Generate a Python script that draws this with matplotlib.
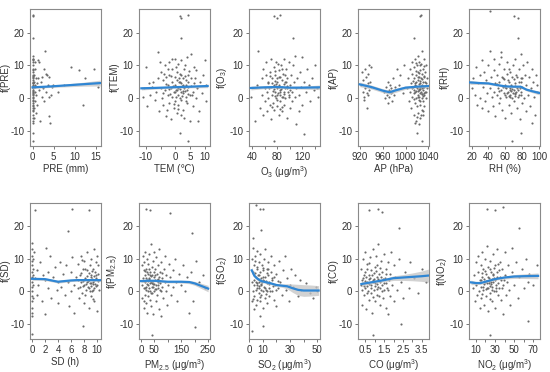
import numpy as np
import matplotlib
matplotlib.use('Agg')
import matplotlib.pyplot as plt

plt.rcParams['font.family'] = ['Liberation Sans', 'DejaVu Sans']
plt.rcParams['mathtext.fontset'] = 'custom'
plt.rcParams['mathtext.rm'] = 'Liberation Sans'
plt.rcParams['mathtext.it'] = 'Liberation Sans'

# ---- scatter points (partial residuals) ----
pre_pts = [(0, 13), (0, 12), (0.05, 11.5), (0, 11), (0.1, 10), (0, 9), (0.05, 8.5), (0, 8), (0.1, 7), (0, 6.5),
           (0.05, 6), (0, 5.5), (0.1, 5), (0, 4.5), (0.05, 4), (0, 3.5), (0.1, 3), (0, 2.5), (0.05, 2), (0, 1.5),
           (0.1, 1), (0, 0.5), (0.05, 0), (0, -0.5), (0.1, -1), (0, -1.5), (0.05, -2), (0, -3), (0.1, -3.5),
           (0, -4), (0.05, -5), (0, -6), (0.1, -7), (0, -7.5), (0.05, 2.2), (0, 3.8), (0.1, 4.7), (0, 6.8),
           (0.05, 1.2), (0, -2.5), (0.3, 5), (0.4, 7), (0.5, 4), (0.6, -1), (0.5, 2), (0.8, 6), (0.7, 3.5),
           (0.4, -3), (0.6, 11), (0.9, 1), (0.3, -6), (0.5, 9), (0.8, -4.5), (1.0, 4.5), (0.2, 12),
           (1.2, 11.5), (1.5, 11), (1.3, 6), (1.6, 2.5), (1.8, -7), (2.0, 5), (2.2, 0.5), (2.5, 3), (2.8, 9),
           (3.0, 14.5), (3.1, 7.5), (3.3, 2), (3.5, 7), (3.6, 4), (3.8, 6.5), (4.0, -5.5), (4.2, -7.5),
           (4.4, 1), (4.6, 3.5), (2.7, -1), (1.1, -2), (2.3, 6.5), (4.8, 4), (3.9, 0.2), (9, 9.5), (11, 8.5),
           (12, -2), (12.5, 6), (14.5, 9), (15.5, 3.5), (6, 2), (7.5, 4),
           (0, 25), (0.05, 25.5), (0, 18.5), (0, -10.5), (0.05, -13)]

tem_pts = [(-10.5, 3), (-10, 9.5), (-9, 4.5), (-8.5, 1), (-8, 3.5), (-7.5, 5), (-7, -0.5), (-6.5, 2), (-6, 14),
           (-6, 6), (-5.5, -4), (-5, 3), (-5, 8), (-4.5, 0), (-4, 5.5), (-4, -2), (-3.5, 10), (-3.5, 2.5),
           (-3, -5.5), (-3, 6.5), (-2.5, 1), (-2.5, 4), (-2, 11), (-2, -1.5), (-2, 7), (-1.5, 3), (-1.5, -6.5),
           (-1, 5), (-1, 0.5), (-1, 9), (-0.5, 2), (-0.5, -3), (0, 12), (0, 4), (0, -1), (0, 6.5), (0.5, 2.5),
           (0.5, 8), (0.5, -4.5), (1, 3.5), (1, 1), (1, 10.5), (1, -2), (1.5, 5), (1.5, 0), (1.5, 7.5), (2, 2),
           (2, 11.5), (2, -0.5), (2, 4.5), (2.5, 6), (2.5, -3.5), (2.5, 1.5), (3, 3), (3, 9), (3, -6),
           (3.5, 0.5), (3.5, 5.5), (4, 2.5), (4, 12.5), (4, -1.5), (4.5, 7), (4.5, 3.5), (5, -7), (5, 1),
           (5.5, 6), (5.5, 13.5), (6, 2), (6, -2.5), (6.5, 4.5), (7, 0), (7, 8.5), (7.5, 3), (8, -4), (8.5, 5),
           (9, 1.5), (9.5, 7), (10, 11.5), (10.5, -1), (10.5, 4), (-11, 0.5), (-9.5, -2.5), (-1.8, 1.2),
           (0.8, 3.2), (2.8, 2.2), (3.8, 4), (1.2, 6.2), (-0.2, 1.8), (2.2, 3.8), (0.3, 0.2), (1.8, -5),
           (-2.8, -3.5), (3.2, 10), (-1.2, 12), (4.2, 5), (6.2, 9.5), (7.8, -7), (-5.2, 11),
           (-3.2, 4.2), (-2.2, 2.8), (-0.8, 3.6), (0.2, 2.4), (1.3, 4.8), (2.3, 0.8), (3.3, 6.8), (4.3, 1.2),
           (5.2, 3.8), (-1.3, 6.8), (0.7, 5.6), (1.7, 2.9), (2.7, 4.1), (3.7, -0.8), (-0.3, -1.8), (4.8, 8.2),
           (-2.6, 8.8), (1.1, -3.2), (2.1, 7.2), (3.4, 2.1), (-4.3, 1.6), (5.8, 0.9), (0.1, 9.6), (6.8, 6.2),
           (-3.8, 7.4),
           (1.5, 25), (2, 24.5), (4.5, 25.5), (2, 18.5), (1.5, -10.5), (4.5, -13)]

o3_pts = [(38, 0.5), (45, -7), (48, 4), (50, 14.5), (52, -3), (55, 6), (55, 1), (58, 9), (58, -5), (60, 3),
          (60, -1), (62, 7), (62, 11), (64, 2), (64, -4), (65, 5), (66, 0), (68, 8), (68, -2), (70, 12),
          (70, 3.5), (70, -6.5), (72, 1), (72, 6), (73, -1.5), (74, 4), (75, 9.5), (75, -3.5), (76, 2), (77, 7),
          (78, 0), (78, 11), (79, 3), (80, 5), (80, -2.5), (81, 1.5), (82, 8.5), (82, -5), (83, 4), (84, 2.5),
          (85, 6.5), (85, -1), (86, 10), (87, 0.5), (88, 3.5), (88, -4), (89, 7.5), (90, 2), (90, 12), (91, -2),
          (92, 5), (93, 0), (94, 9), (95, 3), (95, -6), (96, 6), (98, 1), (98, 11), (100, 4), (100, -3),
          (102, 7), (103, 2), (104, -1), (105, 10), (106, 5), (108, 0.5), (108, 13), (110, 3), (110, -8),
          (112, 6), (114, 1), (115, -4), (116, 8), (118, 3.5), (120, 12.5), (120, -2), (122, 5), (122, -11),
          (125, 2), (128, 9), (130, 4), (132, -1), (135, 6), (138, 2.5), (140, 10), (143, 3), (145, 0.5),
          (76, 5.2), (84, 1), (92, 3.2), (79, 6), (87, -2.8), (66, 4.5), (97, 1.8), (74, 2.8), (81, 10.5),
          (67, 3.2), (71, 4.6), (73, 2.2), (77, 0.8), (79, -0.6), (83, 6.4), (86, 2.8), (88, 5.6), (91, 1.2),
          (93, 7.2), (96, 3.6), (99, 0.2), (69, 6.8), (82, 3.4), (85, 1.8), (78, 4.4), (89, 0.4), (94, 4.8),
          (72, -2.8), (101, 2.6), (76, 8.2), (87, 8.8), (80, 1.1), (90, 4.2), (84, -3.2),
          (75, 25), (80, 24.5), (85, 25.5), (105, 18.5), (75, -13)]

ap_pts = [(922, 4), (924, 8), (925, 2), (926, 5.5), (928, 0.5), (929, 3), (930, 9), (931, 6.5), (932, 1.5),
          (933, -3), (934, 4.5), (935, 7.5), (936, 2.5), (937, 10), (938, 5), (939, 3.5), (940, 9.5), (927, -0.5),
          (935, 1), (962, 2), (964, 0), (966, 3.5), (968, 1), (969, 5), (970, -1.5), (971, 2.5), (972, 0.5),
          (973, 4), (974, 1.5), (975, 3), (976, -1), (977, 2), (978, 6), (980, 1), (982, 3.5), (985, 9),
          (988, 4), (990, 7), (995, 1.5), (998, 10), (1003, 3), (1005, 6), (1006, -1), (1008, 9), (1008, 2),
          (1010, 4.5), (1010, -3), (1011, 7.5), (1012, 0.5), (1012, 11), (1013, 3.5), (1014, -5), (1014, 6),
          (1015, 1.5), (1015, 9.5), (1016, -1.5), (1016, 4), (1017, 12), (1017, 2), (1018, -7), (1018, 7),
          (1019, 0), (1019, 5), (1020, 10), (1020, -2.5), (1020, 3), (1021, 8), (1021, 1), (1022, -4.5),
          (1022, 5.5), (1022, 13), (1023, 2.5), (1023, -0.5), (1024, 6.5), (1024, 0.5), (1024, 11), (1025, 3.5),
          (1025, -6), (1025, 8.5), (1026, 1.5), (1026, 4.5), (1026, -2), (1027, 10.5), (1027, 2), (1027, 6),
          (1028, -3.5), (1028, 3), (1028, 14.5), (1029, 0), (1029, 7.5), (1029, 4), (1030, -1), (1030, 9),
          (1030, 2.5), (1031, 5), (1031, -5), (1032, 1), (1032, 12), (1032, 3.5), (1033, 6.5), (1033, -2.5),
          (1034, 2), (1034, 8), (1035, 4.5), (1035, 0), (1036, 10), (1037, 3), (1038, 6), (1018, 3.8),
          (1023, 4.2), (1026, 2.8), (1021, 2.2), (1029, 1.2), (1024, -8), (1016, -7.5),
          (1011, 3.1), (1013, 5.3), (1015, -0.3), (1017, 4.6), (1019, 2.2), (1021, 6.4), (1022, 0.2),
          (1023, 7.8), (1024, 2.9), (1025, 5.1), (1026, -0.9), (1027, 3.7), (1028, 1.3), (1029, 5.9),
          (1030, 0.7), (1031, 3.3), (1032, 6.9), (1033, 1.6), (1034, 4.9), (1020, -5.6), (1025, 10.2),
          (1030, -3.8), (1018, 10.6), (1027, -5.2), (1033, 9.7), (1014, 2.6), (1036, 1.8), (1019, 8.4),
          (1025, 25), (1027, 25.5), (1015, 18.5), (1020, -10.5), (1028, -13)]

rh_pts = [(20, 3), (22, 6), (24, 1), (25, 9.5), (27, -2), (28, 4.5), (30, 7), (30, 0), (32, 11.5), (32, -3),
          (34, 3.5), (35, 8), (36, -1), (37, 5.5), (38, 1.5), (40, 10), (40, -4), (42, 3), (42, 14.5),
          (43, 6.5), (44, 0.5), (45, -2.5), (46, 8.5), (46, 2), (47, 12), (48, 4.5), (48, -5.5), (50, 1),
          (50, 7), (51, 3), (52, -1.5), (52, 10.5), (53, 5), (54, 0), (55, 2.5), (55, 12.5), (56, -3.5), (57, 6),
          (58, 1.5), (58, 9), (59, 3.5), (60, -6), (60, 4), (61, 0.5), (62, 7.5), (62, 11), (63, 2), (64, -2),
          (64, 5), (65, 1), (66, 8), (66, 3), (67, -4.5), (68, 0), (68, 6.5), (69, 10), (70, 2.5), (70, -1),
          (71, 4.5), (72, 1.5), (72, 12), (73, 7), (74, -3), (74, 3), (75, 0.5), (76, 9), (76, 5), (77, -6.5),
          (78, 2), (78, 13.5), (79, 6), (80, -1.5), (80, 3.5), (81, 10), (82, 0), (83, 7), (84, -4), (85, 4),
          (86, 11), (87, 1), (88, 6.5), (89, -2.5), (90, 3), (91, 9), (92, -7.5), (93, 5), (94, 0.5), (95, -5),
          (96, 7), (97, 2), (98, 4), (55, 14), (67, 2.2), (71, 1.2), (64, 0.8), (58, 5.8),
          (50, 4.2), (53, 2.1), (56, 6.4), (59, 0.9), (61, 3.1), (63, 5.6), (65, 2.6), (66, 0.4), (67, 4.1),
          (69, 1.7), (70, 5.9), (71, 0.6), (72, 3.8), (73, 1.9), (74, 6.6), (75, 2.4), (76, 0.9), (77, 3.2),
          (78, 4.8), (79, 1.1), (62, 1.6), (57, 3.3), (68, 2.9), (64, 8.8), (80, 6.2),
          (42, 26.5), (70, 25), (75, 24.5), (75, 18.5), (78, -10.5), (68, -13)]

sd_pts = [(0, 15), (0, 13), (0, 11), (0, 9.5), (0, 8), (0, 6), (0, 4.5), (0, 3), (0, 1.5), (0, 0), (0, -1.5),
          (0, -3), (0, -5), (0, -6.5), (0, -7.5), (0.1, 5), (0.1, 2), (0.1, -2), (0.1, 10), (0.1, 7),
          (0.3, 12), (0.5, 4), (0.7, -1), (0.8, 6.5), (1, 2), (1.2, 9), (1.5, -3), (1.7, 5), (2, 3.5), (2, -7),
          (2.2, 13.5), (2.4, 1), (2.5, 6), (2.8, 11), (3, -2), (3.2, 4.5), (3.5, 7.5), (3.8, 0.5), (4, 3),
          (4, -3.5), (4.3, 9), (4.5, 1.5), (4.7, 5.5), (5, -1), (5.2, 8), (5.5, 3), (5.7, -4.5), (6, 6), (6, 0),
          (6.2, 10.5), (6.5, 2), (6.5, -6.5), (6.8, 4.5), (7, 8.5), (7, 1), (7.2, -2), (7.3, 5), (7.5, 3),
          (7.5, 11), (7.7, -0.5), (7.8, 7), (8, 2), (8, 9.5), (8, -3.5), (8.2, 4), (8.3, 0.5), (8.5, 6.5),
          (8.5, 12), (8.6, 1.5), (8.7, -5), (8.8, 3.5), (8.9, 8), (9, 2.5), (9, -1.5), (9, 10), (9.1, 5),
          (9.2, 0), (9.3, 7), (9.4, 3), (9.5, 13), (9.5, -3), (9.6, 1), (9.7, 6), (9.8, 4), (9.9, 9), (10, -6),
          (10, 2), (10, 11), (10.2, 5.5), (10.3, 0.5), (8.4, 2.8), (9.2, 3.8), (7.9, 1.8), (8.9, 0.2), (9.7, 2.2),
          (7.1, 3.6), (7.4, 1.4), (7.6, 5.8), (7.9, 3.1), (8.1, 6.9), (8.3, 2.2), (8.4, 4.7), (8.6, 3.3),
          (8.7, 1.0), (8.8, 5.6), (8.9, 2.6), (9.0, 4.4), (9.1, 1.8), (9.2, 6.2), (9.3, 2.3), (9.4, 0.6),
          (9.5, 4.9), (9.6, 3.4), (9.8, 1.6), (9.9, 5.1), (10.1, 3.2), (10.2, 8.2), (8.2, -1.2), (9.4, -2.2),
          (7.7, 9.8),
          (0.5, 25), (6.2, 25.5), (8.8, 25), (5.5, 18.5), (7.8, -10.5), (0, -13)]

pm25_pts = [(3, 2), (5, 8), (5, -2), (8, 11), (8, 4), (10, -5), (10, 6.5), (12, 1), (12, 9), (14, 3), (15, -1),
            (16, 12), (17, 5), (18, -3.5), (20, 7), (20, 0.5), (22, 3.5), (23, 10), (24, -6.5), (25, 2),
            (26, 5.5), (27, -1.5), (28, 8.5), (30, 1), (30, 4), (32, 11.5), (33, -2.5), (34, 6), (35, 0), (36, 3),
            (37, 14.5), (38, -4.5), (40, 7.5), (40, 2.5), (42, -0.5), (43, 5), (44, 9.5), (45, 1.5), (46, -7),
            (48, 4.5), (50, 12), (50, 0), (52, 3.5), (54, 7), (55, -3), (56, 2), (58, 10.5), (60, 5.5), (60, -1),
            (62, 1), (64, 8), (65, 3), (66, -5.5), (68, 13), (70, 6), (70, 0.5), (72, 2.5), (75, -7.5), (76, 9),
            (78, 4), (80, 1.5), (82, -2), (85, 7), (88, 3), (90, 11), (92, 0), (95, 5), (98, -4), (100, 2),
            (105, 8.5), (110, 4.5), (112, -1), (118, 6.5), (120, 1.5), (125, 10), (130, 3), (135, -3),
            (140, 5.5), (150, 2), (155, 8), (165, 0), (170, 4.5), (180, -6.5), (185, 6), (195, -3), (205, 9.5),
            (215, 3), (230, 5), (240, 1), (28, 3.2), (45, 2.2), (62, 3.8), (18, 1.5), (35, 5.2), (52, 0.8),
            (11, 3.3), (14, 6.4), (16, 1.1), (19, 4.1), (21, 2.2), (24, 5.9), (26, 0.3), (29, 3.9), (31, 6.8),
            (33, 2.7), (36, -0.6), (39, 4.7), (41, 1.3), (44, 3.1), (47, 6.1), (49, 2.4), (53, 5.1), (57, 0.9),
            (59, 3.6), (63, 1.9), (67, 4.4), (71, 3.3), (74, 0.1), (77, 5.6), (13, -2.8),
            (20, 25.5), (35, 25), (110, 24), (190, 18), (40, -13.5), (200, -11)]

so2_pts = [(2, 3), (2, 10), (2.5, -3), (3, 13.5), (3, 6), (3, 0), (3.5, -5.5), (4, 8), (4, 2), (4, -1.5),
           (4.5, 11), (5, 4.5), (5, -4), (5, 0.5), (5.5, 7), (6, 2.5), (6, -2.5), (6, 12.5), (6.5, 5), (7, -0.5),
           (7, 9), (7, 3), (7.5, 1), (8, 6), (8, -3), (8, 11.5), (8.5, 2), (9, 4), (9, -1), (9.5, 8), (10, 0),
           (10, 3.5), (10, -5), (10.5, 6.5), (11, 1.5), (11, 10), (11.5, -2), (12, 4.5), (12, 13), (12.5, 0.5),
           (13, 7), (13, 2.5), (13.5, -3.5), (14, 5), (14, 9), (14.5, 1), (15, -1.5), (15, 3), (16, 6), (16, 11),
           (17, 0), (17, 4), (18, -2.5), (18, 8), (19, 2), (20, 5.5), (20, -4.5), (21, 1), (22, 9.5), (23, 3),
           (24, -1), (25, 6.5), (26, 11), (27, 0.5), (28, 4), (29, -3), (30, 2), (31, 7), (32, 1.5), (34, 5),
           (36, -1.5), (37, 3.5), (38, 0.5), (42, 2.5), (45, -0.5), (47, -2), (49, 1.5), (50, 0), (6, 1.2),
           (9, 2.2), (11, 3.2), (7, 1.8), (13, 0.2), (5, 2.8),
           (3.5, 3.4), (4.5, 5.6), (5.5, 1.9), (6.5, 3.8), (7.5, 5.1), (8.5, 0.6), (9.5, 2.9), (10.5, 4.4),
           (11.5, 1.1), (12.5, 3.1), (13.5, 5.6), (14.5, 2.2), (15.5, 0.1), (16.5, 3.6), (17.5, 1.6),
           (18.5, 4.6), (19.5, 0.4), (4.2, 9.4), (6.2, 7.6), (8.2, -1.6), (10.2, 7.1), (12.2, -0.8), (14.2, 6.9),
           (3.2, -2.2), (21.5, 3.2),
           (5, 26.5), (8, 25.5), (10, 25.5), (9, 19), (3, 16.5), (2, -12), (10, -10.5), (8, -7.5)]

co_pts = [(0.3, 2), (0.3, 7), (0.35, -4), (0.4, 10), (0.4, 4), (0.45, -1), (0.5, 6), (0.5, 1), (0.5, 12),
          (0.55, -5.5), (0.6, 3), (0.6, 8.5), (0.65, 0), (0.7, 5), (0.7, -2.5), (0.75, 10.5), (0.8, 2),
          (0.8, 6.5), (0.85, -6.5), (0.9, 3.5), (0.9, 13), (0.95, 0.5), (1.0, 7.5), (1.0, -3), (1.0, 2.5),
          (1.05, 11), (1.1, 4.5), (1.1, -1), (1.15, 8), (1.2, 1.5), (1.2, 14.5), (1.25, 5.5), (1.3, -4), (1.3, 3),
          (1.35, 9.5), (1.4, 0), (1.4, 6), (1.45, -2), (1.5, 2.5), (1.5, 11.5), (1.55, 4), (1.6, -5), (1.6, 7),
          (1.65, 1), (1.7, 9), (1.75, 3.5), (1.8, -1.5), (1.8, 5.5), (1.85, 12), (1.9, 2), (2.0, 8), (2.0, -3),
          (2.1, 4.5), (2.2, 0.5), (2.3, 10), (2.4, 3), (2.5, -2), (2.6, 6), (2.8, 1), (2.9, 9), (3.1, 4),
          (3.3, -0.5), (3.5, 7), (3.7, 3), (0.6, 1.8), (0.9, 2.8), (1.1, 0.8), (0.7, 3.8), (1.3, 1.2), (0.5, 3.2),
          (0.45, 5), (0.95, 5.8), (1.7, -7), (0.35, 0.5), (0.8, -0.5),
          (0.32, 3.4), (0.42, 1.6), (0.52, 4.6), (0.58, 6.9), (0.62, -0.6), (0.68, 2.3), (0.72, 8.8),
          (0.78, 4.2), (0.82, 1.1), (0.88, 5.2), (0.92, -1.8), (0.98, 3.9), (1.02, 1.6), (1.08, 6.4),
          (1.12, 2.3), (1.18, 3.7), (1.22, -1.3), (1.28, 7.2), (1.32, 4.4), (1.38, 2.1), (1.42, 3.8),
          (1.48, 0.6), (1.58, 5.3), (1.62, 2.7), (1.72, 0.4),
          (0.7, 25), (1.2, 25.5), (1.4, 24.5), (2.3, 19.5), (2.4, -10), (0.9, -13.5)]

no2_pts = [(7, 1), (8, 5), (9, -3), (10, 9), (10, 2), (11, -1), (12, 6), (12, 11), (13, 0), (14, 3.5), (14, -5),
           (15, 8), (15, 1.5), (16, -2), (17, 4.5), (17, 12), (18, 0.5), (18, 7), (19, -4), (20, 3), (20, 10),
           (21, -1.5), (21, 5.5), (22, 1), (22, 14), (23, 7.5), (23, -6), (24, 2.5), (24, 4), (25, -0.5),
           (25, 9.5), (26, 3), (26, 6), (27, -3), (27, 1.5), (28, 11.5), (28, 5), (29, 0), (30, 8), (30, -5),
           (31, 2), (32, 4.5), (32, 13), (33, -1), (34, 6.5), (34, 1), (35, 9), (36, -2.5), (36, 3.5), (37, 7),
           (38, -7), (38, 2), (40, 5), (40, 12), (42, -1), (43, 3), (44, 8), (45, 0.5), (46, -4), (48, 6),
           (48, 13.5), (50, 2), (52, 9), (54, -2), (55, 4.5), (58, 7), (60, 1), (62, 10), (64, 3), (66, 5.5),
           (70, 2), (74, 8), (19, 2.2), (23, 1.2), (27, 3.8), (31, 0.2), (21, 3.2), (25, 1.8), (29, 4.2),
           (15.5, 3.6), (16.5, 5.8), (17.5, 1.4), (18.5, 3.9), (19.5, 6.3), (20.5, 0.8), (21.5, 2.7),
           (22.5, 4.6), (23.5, 3.1), (24.5, 6.9), (25.5, 2.2), (26.5, 0.4), (27.5, 5.4), (28.5, 2.9),
           (29.5, 7.2), (30.5, 3.4), (31.5, 1.1), (32.5, 6.1), (33.5, 2.6), (35.5, 4.4), (37.5, 1.2),
           (39.5, 3.6), (16.5, -0.9), (24.5, -2.4), (33.5, 8.6),
           (22, 25.5), (30, 25), (38, 26), (55, 19.5), (25, -13.5), (65, -9)]

# ---- smooth fits: x, fitted value, half-width of the band ----
pre_fit = ([0, 4, 8, 12, 16], [3.3, 3.55, 3.9, 4.25, 4.6], [0.35, 0.3, 0.45, 0.6, 0.9])
tem_fit = ([-11.5, -6, 0, 5, 11], [3.0, 3.15, 3.35, 3.5, 3.7], [0.5, 0.35, 0.3, 0.35, 0.5])
o3_fit = ([38, 60, 80, 100, 120, 147], [3.1, 3.3, 3.4, 3.2, 3.2, 3.3], [0.6, 0.4, 0.3, 0.35, 0.45, 0.7])
ap_fit = ([920, 940, 960, 972, 985, 1000, 1020, 1040], [4.2, 3.4, 2.3, 1.8, 2.5, 3.2, 3.5, 3.7],
          [0.7, 0.6, 0.6, 0.6, 0.6, 0.5, 0.3, 0.5])
rh_fit = ([18, 30, 40, 50, 60, 70, 78, 85, 92, 100], [4.8, 4.6, 4.5, 4.0, 3.6, 3.5, 3.5, 2.6, 2.1, 1.6],
          [0.6, 0.4, 0.35, 0.3, 0.3, 0.3, 0.35, 0.4, 0.45, 0.6])
sd_fit = ([0, 1, 2, 3, 4, 5, 6, 7, 8, 9, 10.5], [3.9, 3.85, 3.8, 3.4, 3.0, 3.2, 3.4, 3.5, 3.5, 3.5, 3.5],
          [0.45, 0.4, 0.4, 0.4, 0.4, 0.4, 0.35, 0.3, 0.3, 0.3, 0.4])
pm25_fit = ([0, 25, 50, 100, 150, 180, 200, 225, 250], [3.2, 3.3, 3.3, 3.0, 3.0, 2.9, 2.5, 1.7, 0.9],
            [0.5, 0.35, 0.3, 0.35, 0.4, 0.5, 0.6, 0.8, 1.0])
so2_fit = ([2, 4, 6, 9, 12, 16, 20, 24, 28, 32, 36, 40, 45, 51],
           [6.5, 4.8, 4.0, 3.2, 2.9, 2.5, 2.0, 1.8, 1.6, 1.0, 0.5, 0.3, 0.3, 0.3],
           [1.0, 0.6, 0.5, 0.4, 0.4, 0.4, 0.45, 0.5, 0.8, 1.3, 1.7, 1.8, 1.7, 1.5])
co_fit = ([0.3, 0.6, 1.0, 1.5, 2.0, 2.5, 3.0, 3.5, 3.85], [2.3, 2.6, 3.0, 3.5, 4.1, 4.3, 4.5, 4.7, 4.9],
          [0.8, 0.5, 0.4, 0.5, 0.7, 0.9, 1.2, 1.6, 2.0])
no2_fit = ([5, 10, 15, 20, 30, 40, 50, 60, 75], [2.8, 2.6, 2.6, 3.0, 3.8, 4.3, 4.6, 4.7, 4.8],
           [0.7, 0.5, 0.4, 0.35, 0.35, 0.45, 0.6, 0.7, 0.9])

# ---- axis text ----
ylabels = ['f(PRE)', 'f(TEM)', 'f(O$_3$)', 'f(AP)', 'f(RH)',
           'f(SD)', 'f(PM$_{2.5}$)', 'f(SO$_2$)', 'f(CO)', 'f(NO$_2$)']
xlabels = ['PRE (mm)', 'TEM (\u2103)', 'O$_3$ (\u03bcg/m$^3$)', 'AP (hPa)', 'RH (%)',
           'SD (h)', 'PM$_{2.5}$ (\u03bcg/m$^3$)', 'SO$_2$ (\u03bcg/m$^3$)', 'CO (\u03bcg/m$^3$)',
           'NO$_2$ (\u03bcg/m$^3$)']
xticks = [[0, 5, 10, 15], [-10, -5, 0, 5, 10], [40, 60, 80, 100, 120, 140], [920, 960, 1000, 1040],
          [20, 40, 60, 80, 100], [0, 2, 4, 6, 8, 10], [0, 50, 100, 150, 200, 250],
          [0, 10, 20, 30, 40, 50], [0.5, 1.0, 1.5, 2.0, 2.5, 3.0, 3.5], [10, 20, 30, 40, 50, 60, 70]]
xticklabels = [['0', '5', '10', '15'], ['-10', '', '0', '5', '10'], ['40', '', '80', '', '120', ''],
               ['920', '960', '1000', '1040'], ['20', '40', '60', '80', '100'],
               ['0', '2', '4', '6', '8', '10'], ['0', '50', '', '150', '', '250'],
               ['0', '10', '', '30', '', '50'], ['0.5', '', '1.5', '', '2.5', '', '3.5'],
               ['10', '', '30', '', '50', '', '70']]
xlims = [(-0.6, 16.2), (-12.3, 11.8), (35, 148), (917, 1041), (17, 101),
         (-0.3, 10.6), (-7, 257), (0, 52), (0.12, 3.88), (3, 77)]

points = [pre_pts, tem_pts, o3_pts, ap_pts, rh_pts, sd_pts, pm25_pts, so2_pts, co_pts, no2_pts]
fits = [pre_fit, tem_fit, o3_fit, ap_fit, rh_fit, sd_fit, pm25_fit, so2_fit, co_fit, no2_fit]

fig = plt.figure(figsize=(5.5, 3.72), dpi=100)
W, H = 550.0, 372.0
lefts = [30, 139, 249, 358, 469]
rows = [(9, 146), (203, 339)]

for i in range(10):
    r, c = divmod(i, 5)
    top, bot = rows[r]
    ax = fig.add_axes([lefts[c] / W, 1 - bot / H, 71 / W, (bot - top) / H])
    px, py = np.array(points[i], dtype=float).T
    ax.scatter(px, py, s=2.4, color='#6a6a6a', linewidths=0, zorder=2)
    fx, fy, fse = (np.array(a, dtype=float) for a in fits[i])
    ax.fill_between(fx, fy - fse, fy + fse, color='#c4c4c4', alpha=0.75, linewidth=0, zorder=3)
    ax.plot(fx, fy, color='#2f86d4', lw=1.6, zorder=4)

    ax.set_xlim(*xlims[i])
    ax.set_ylim(-14.6, 27.2)
    ax.set_yticks([-10, 0, 10, 20])
    ax.set_yticklabels(['-10', '0', '10', '20'])
    ax.set_xticks(xticks[i])
    ax.set_xticklabels(xticklabels[i])
    ax.set_ylabel(ylabels[i], fontsize=7, color='#333333', labelpad=0)
    ax.set_xlabel(xlabels[i], fontsize=7, color='#333333', labelpad=2)
    ax.tick_params(labelsize=7, length=2.5, width=0.7, pad=1.5, colors='#777777', labelcolor='#333333')
    for sp in ax.spines.values():
        sp.set_color('#8a8a8a')
        sp.set_linewidth(0.8)

fig.savefig('out.png', dpi=100)
